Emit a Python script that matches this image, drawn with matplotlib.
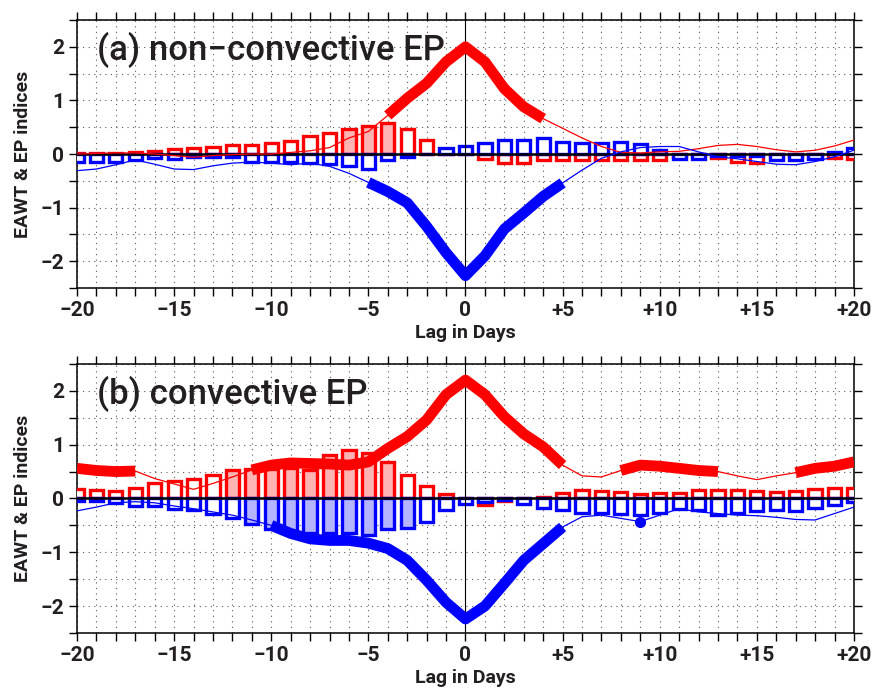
import matplotlib
matplotlib.use('Agg')
import matplotlib.pyplot as plt
import numpy as np

plt.rcParams['font.family'] = ['Roboto', 'DejaVu Sans']

lags = np.arange(-20, 21)

# (a) non-convective EP
red_line_a = [0.0, 0.01, 0.02, 0.02, 0.0, -0.03, -0.06, -0.03, -0.01, 0.0,
              0.0, 0.03, 0.06, 0.12, 0.3, 0.42, 0.72, 1.04, 1.32, 1.72,
              2.0, 1.72, 1.22, 0.88, 0.66, 0.48, 0.3, 0.14, 0.03, 0.02,
              0.04, 0.05, 0.1, 0.16, 0.18, 0.14, 0.08, 0.04, 0.07, 0.15, 0.26]
blue_line_a = [-0.31, -0.28, -0.2, -0.11, -0.19, -0.28, -0.29, -0.22, -0.17, -0.15,
               -0.17, -0.2, -0.17, -0.23, -0.36, -0.53, -0.7, -0.91, -1.35, -1.84,
               -2.27, -1.9, -1.4, -1.1, -0.79, -0.54, -0.3, -0.08, 0.04, 0.12,
               0.14, 0.14, 0.04, -0.05, -0.09, -0.14, -0.19, -0.2, -0.14, -0.05, 0.07]
red_bar_a = [0.01, 0.02, 0.02, 0.03, 0.06, 0.1, 0.12, 0.14, 0.17, 0.17,
             0.2, 0.25, 0.33, 0.4, 0.46, 0.52, 0.57, 0.46, 0.26, 0.02,
             0.01, -0.1, -0.16, -0.17, -0.12, -0.11, -0.11, -0.12, -0.12, -0.12,
             -0.12, -0.05, -0.03, -0.08, -0.14, -0.17, -0.06, -0.04, -0.05, -0.08, -0.1]
blue_bar_a = [-0.14, -0.14, -0.14, -0.11, -0.08, -0.09, -0.05, -0.05, -0.05, -0.14,
              -0.14, -0.14, -0.16, -0.19, -0.22, -0.28, -0.12, -0.05, 0.0, 0.12,
              0.15, 0.21, 0.27, 0.27, 0.29, 0.22, 0.2, 0.21, 0.23, 0.19,
              0.07, -0.1, -0.1, -0.04, -0.03, -0.03, -0.11, -0.12, -0.1, 0.03, 0.12]
red_thick_a = [(-4, 4)]
blue_thick_a = [(-5, 5)]
red_fill_a = [-6, -5, -4]
blue_fill_a = []
blue_dots_a = []

# (b) convective EP
red_line_b = [0.56, 0.52, 0.5, 0.51, 0.37, 0.27, 0.17, 0.28, 0.4, 0.53,
              0.62, 0.66, 0.65, 0.64, 0.62, 0.68, 0.93, 1.15, 1.46, 1.93,
              2.2, 1.93, 1.52, 1.2, 0.96, 0.62, 0.42, 0.4, 0.52, 0.62,
              0.6, 0.56, 0.52, 0.5, 0.42, 0.35, 0.42, 0.48, 0.56, 0.6, 0.68]
blue_line_b = [-0.23, -0.16, -0.08, -0.06, -0.08, -0.14, -0.19, -0.25, -0.31, -0.4,
               -0.5, -0.65, -0.75, -0.78, -0.78, -0.83, -0.93, -1.15, -1.52, -1.93,
               -2.24, -2.0, -1.58, -1.15, -0.84, -0.53, -0.34, -0.31, -0.37, -0.43,
               -0.31, -0.19, -0.25, -0.28, -0.31, -0.32, -0.35, -0.39, -0.4, -0.28, -0.16]
red_bar_b = [0.17, 0.16, 0.14, 0.2, 0.28, 0.33, 0.37, 0.43, 0.53, 0.55,
             0.55, 0.56, 0.53, 0.8, 0.9, 0.85, 0.68, 0.43, 0.23, 0.09,
             0.0, -0.12, -0.05, 0.0, 0.03, 0.1, 0.16, 0.14, 0.12, 0.09,
             0.11, 0.11, 0.16, 0.16, 0.16, 0.14, 0.12, 0.14, 0.17, 0.19, 0.2]
blue_bar_b = [-0.05, -0.04, -0.09, -0.14, -0.14, -0.19, -0.22, -0.29, -0.37, -0.47,
              -0.56, -0.62, -0.65, -0.65, -0.65, -0.68, -0.56, -0.54, -0.43, -0.22,
              -0.1, -0.07, -0.03, -0.1, -0.17, -0.22, -0.27, -0.27, -0.28, -0.31,
              -0.27, -0.19, -0.22, -0.31, -0.27, -0.23, -0.22, -0.23, -0.17, -0.12, -0.06]
red_thick_b = [(-20, -17), (-11, 5), (8, 13), (17, 20)]
blue_thick_b = [(-10, 5)]
red_fill_b = [-12, -11, -10, -9, -8, -7, -6, -5, -4]
blue_fill_b = [-11, -10, -9, -8, -7, -6, -5, -4, -3]
blue_dots_b = [9]

RED, BLUE = '#ff0000', '#0000ff'
PINK, LBLUE = '#ffb4b4', '#b4b4ff'
TXT = '#231f20'


def draw_panel(ax, title, red_line, blue_line, red_bar, blue_bar,
               red_thick, blue_thick, red_fill, blue_fill, blue_dots):
    red_line = np.array(red_line)
    blue_line = np.array(blue_line)
    rfc = [PINK if d in red_fill else 'white' for d in lags]
    bfc = [LBLUE if d in blue_fill else 'white' for d in lags]
    ax.bar(lags, red_bar, width=0.68, color=rfc, edgecolor=RED, linewidth=2.4, zorder=3)
    ax.bar(lags, blue_bar, width=0.68, color=bfc, edgecolor=BLUE, linewidth=2.4, zorder=3)
    ax.axhline(0, color='black', lw=1.8, zorder=4)
    ax.axvline(0, color='black', lw=0.8, zorder=4)

    ax.plot(lags, red_line, color=RED, lw=0.9, zorder=5)
    ax.plot(lags, blue_line, color=BLUE, lw=0.9, zorder=5)
    for a, b in red_thick:
        m = (lags >= a) & (lags <= b)
        ax.plot(lags[m], red_line[m], color=RED, lw=7.8, solid_capstyle='butt',
                solid_joinstyle='round', zorder=6)
    for a, b in blue_thick:
        m = (lags >= a) & (lags <= b)
        ax.plot(lags[m], blue_line[m], color=BLUE, lw=7.8, solid_capstyle='butt',
                solid_joinstyle='round', zorder=6)
    for d in blue_dots:
        ax.plot(d, blue_line[lags == d], 'o', color=BLUE, ms=7, zorder=6)

    ax.set_xlim(-20, 20)
    ax.set_ylim(-2.5, 2.5)
    ax.set_xticks([-20, -15, -10, -5, 0, 5, 10, 15, 20])
    ax.set_xticklabels(['\u221220', '\u221215', '\u221210', '\u22125', '0',
                        '+5', '+10', '+15', '+20'])
    ax.set_xticks(lags, minor=True)
    ax.set_yticks([-2, -1, 0, 1, 2])
    ax.set_yticklabels(['\u22122', '\u22121', '0', '1', '2'])
    ax.set_yticks(np.arange(-2.5, 2.6, 0.5), minor=True)
    ax.grid(True, which='both', color='0.35', lw=0.8, ls=(0, (1, 4)), zorder=0)
    ax.tick_params(which='both', direction='out', length=6, width=1.0,
                   top=True, right=True, colors='black', labelcolor=TXT,
                   labelsize=15)
    for lab in ax.get_xticklabels() + ax.get_yticklabels():
        lab.set_fontweight('bold')
    for s in ax.spines.values():
        s.set_linewidth(1.1)
    ax.set_xlabel('Lag in Days', fontsize=14, fontweight='bold', color=TXT, labelpad=3)
    ax.set_ylabel('EAWT & EP indices', fontsize=14, fontweight='bold', color=TXT, labelpad=6)
    ax.text(0.026, 0.85, title, transform=ax.transAxes, fontsize=25,
            fontweight='medium', color=TXT, va='baseline', zorder=7)


fig = plt.figure(figsize=(8.72, 6.93), dpi=100)
ax_a = fig.add_axes([0.0883, 0.5844, 0.891, 0.3867])
ax_b = fig.add_axes([0.0883, 0.0866, 0.891, 0.3882])

draw_panel(ax_a, '(a) non\u2212convective EP', red_line_a, blue_line_a, red_bar_a, blue_bar_a,
           red_thick_a, blue_thick_a, red_fill_a, blue_fill_a, blue_dots_a)
draw_panel(ax_b, '(b) convective EP', red_line_b, blue_line_b, red_bar_b, blue_bar_b,
           red_thick_b, blue_thick_b, red_fill_b, blue_fill_b, blue_dots_b)

fig.savefig('out.png', dpi=100)
